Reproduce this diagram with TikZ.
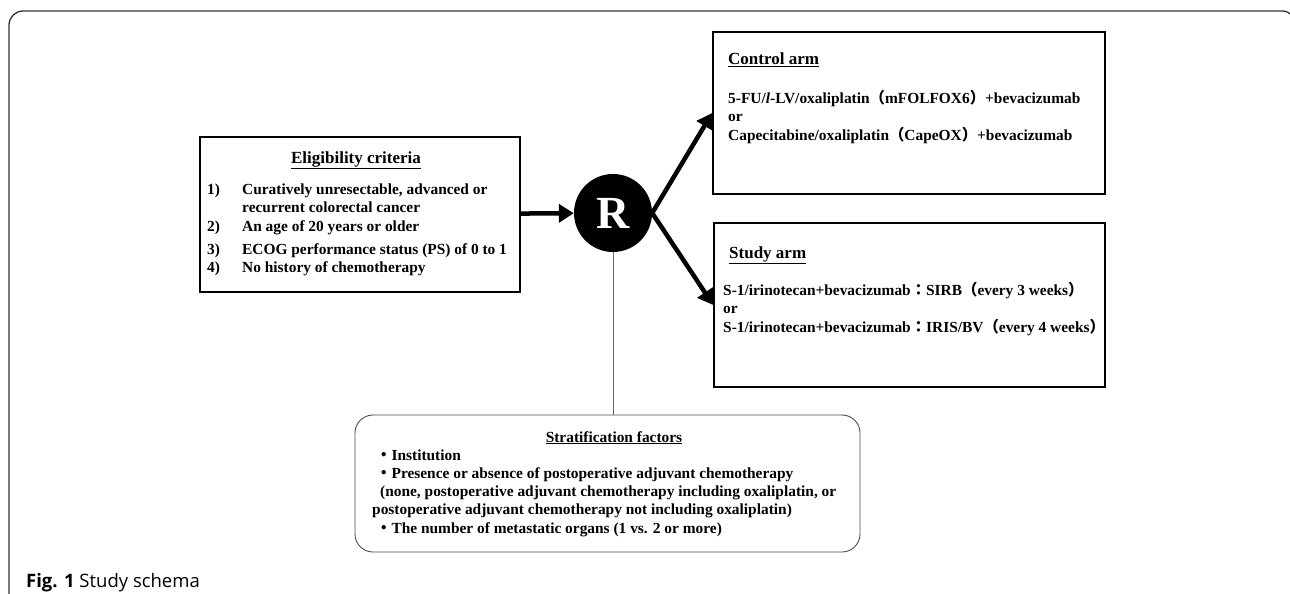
\documentclass[tikz,border=0pt]{standalone}
\usepackage{fontspec}
\setmainfont{Liberation Serif}
\newfontfamily\cjkfont{Noto Sans CJK JP}
\newfontfamily\capfont{Open Sans}
\usetikzlibrary{arrows.meta}
\newcommand{\fwl}{{\cjkfont （}}
\newcommand{\fwr}{{\cjkfont ）}}
\newcommand{\fwcolon}{{\cjkfont ：}}
\newcommand{\fwdot}{{\cjkfont ・}}
\begin{document}
\begin{tikzpicture}[x=1pt, y=-1pt,
		box/.style={draw, line width=1.6pt, inner sep=0pt},
		txt/.style={inner sep=0pt, anchor=base west},
		titlefont/.style={font={\bfseries\fontsize{17}{20}\selectfont}},
		bodyfont/.style={font={\bfseries\fontsize{15.4}{18.5}\selectfont}},
		bigarrow/.style={line width=4.5pt, -{Triangle[length=15pt,width=18pt]}}]
	\useasboundingbox (0,0) rectangle (1290,594);
	
	% FRAME
	\draw[rounded corners=14pt, line width=1.3pt, black!80] (9,600) -- (9,11) -- (1296,11) -- (1296,60);
	
	% BOXES
	\node[box, minimum width=320pt, minimum height=155pt] (elig) at (360,214.5) {}; % eligibility
	\node[box, minimum width=392pt, minimum height=162pt] (ctrl) at (909,113) {}; % control arm
	\node[box, minimum width=391pt, minimum height=164pt] (study) at (909.5,305) {}; % study arm
	\node[draw, black!70, line width=0.9pt, rounded corners=18pt, inner sep=0pt,
		minimum width=505pt, minimum height=137pt] (strat) at (607.5,483.5) {}; % stratification
	\node[circle, fill=black, minimum size=78pt, inner sep=0pt, text=white,
		font={\bfseries\fontsize{46}{46}\selectfont}] (R) at (613,213) {R}; % randomisation
	
	% TEXTS
	\node[txt, titlefont, anchor=base] (eligtitle) at (356,163) {\underline{Eligibility criteria}};
	\node[txt, bodyfont] (eligtext) at (207,194) {\begin{tabular}[t]{@{}p{35pt}@{}l@{}}
			1) & Curatively unresectable, advanced or\\
			   & recurrent colorectal cancer\\
			2) & An age of 20 years or older\\[4.5pt]
			3) & ECOG performance status (PS) of 0 to 1\\
			4) & No history of chemotherapy
		\end{tabular}};
	
	\node[txt, titlefont] (ctrltitle) at (728,65) {\underline{Control arm}};
	\node[txt, bodyfont] (ctrltext) at (728,103) {\begin{tabular}[t]{@{}l@{}}
			5-FU/\textit{l}-LV/oxaliplatin\fwl mFOLFOX6\fwr+bevacizumab\\
			or\\
			Capecitabine/oxaliplatin\fwl CapeOX\fwr+bevacizumab
		\end{tabular}};
	
	\node[txt, titlefont] (studytitle) at (729,258) {\underline{Study arm}};
	\node[txt, bodyfont] (studytext) at (723,295) {\begin{tabular}[t]{@{}l@{}}
			S-1/irinotecan+bevacizumab\fwcolon SIRB\fwl every 3 weeks\fwr\\
			or\\
			S-1/irinotecan+bevacizumab\fwcolon IRIS/BV\fwl every 4 weeks\fwr
		\end{tabular}};
	
	\node[txt, anchor=base, font={\bfseries\fontsize{15.4}{18}\selectfont}] (strattitle) at (614,442) {\underline{Stratification factors}};
	\node[txt, font={\bfseries\fontsize{15.4}{18.3}\selectfont}] (strattext) at (372,460) {\begin{tabular}[t]{@{}l@{}}
			\hspace{4pt}\fwdot Institution\\
			\hspace{4pt}\fwdot Presence or absence of postoperative adjuvant chemotherapy\\
			\hspace{8pt}(none, postoperative adjuvant chemotherapy including oxaliplatin, or\\
			postoperative adjuvant chemotherapy not including oxaliplatin)\\
			\hspace{4pt}\fwdot The number of metastatic organs (1 vs. 2 or more)
		\end{tabular}};
	
	\node[txt, font={\capfont\fontsize{18.5}{20}\selectfont}] (caption) at (26,587) {\textbf{Fig. 1} Study schema};
	
	% DRAW ARROWS
	\draw[bigarrow] (elig) -- (R);
	\draw[bigarrow] (R.east) -- (ctrl.west);
	\draw[bigarrow] (R.east) -- (study.west);
	\draw[black!60, line width=0.8pt] (R.south) -- (R.south |- strat.north);
\end{tikzpicture}
\end{document}
